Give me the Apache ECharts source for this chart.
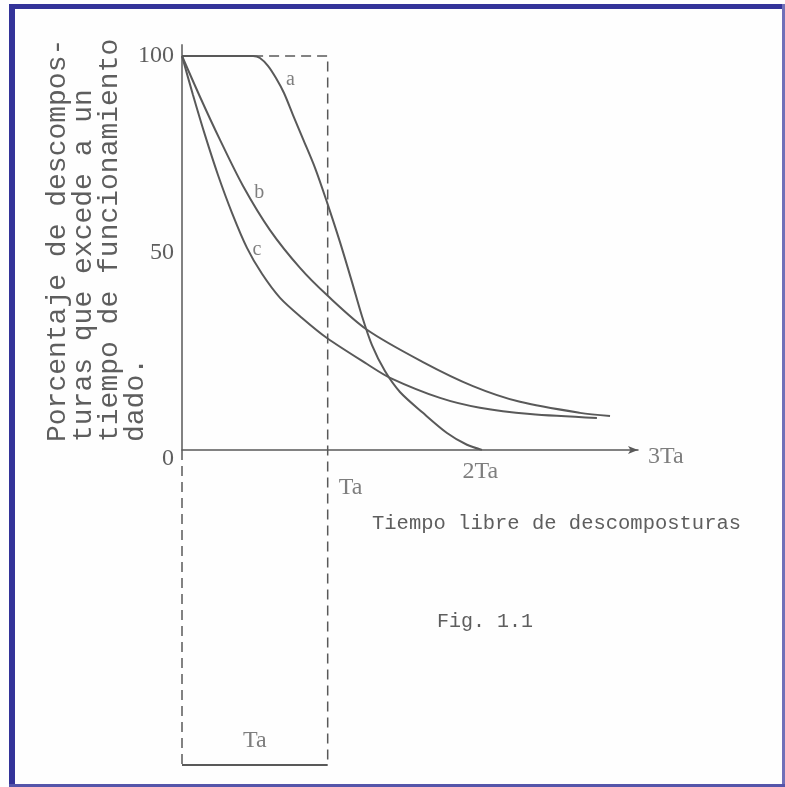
<!DOCTYPE html>
<html><head><meta charset="utf-8">
<script src="https://cdn.jsdelivr.net/npm/echarts@6/dist/echarts.min.js"></script>
<style>html,body{margin:0;padding:0;background:#fefefe}#c{width:785px;height:787px}</style>
</head><body><div id="c"></div>
<script>
// ---- data (x in units of Ta, y in percent) ----
const curveA = [[0,100],[0.488,100],[0.535,99.5],[0.590,97.5],[0.645,94.4],[0.700,90.6],[0.762,85.0],[0.831,78.9],[0.913,71.6],[0.995,62.9],[1.084,52.8],[1.167,42.6],[1.235,34.0],[1.304,26.6],[1.393,20.0],[1.496,14.7],[1.654,9.4],[1.819,4.3],[1.956,1.3],[2.059,0]];
const curveB = [[0,100],[0.124,89.6],[0.261,78.7],[0.419,67.0],[0.604,55.8],[0.810,46.2],[0.995,39.3],[1.270,30.5],[1.654,22.3],[1.997,16.2],[2.320,12.2],[2.732,9.4],[2.938,8.6]];
const curveC = [[0,100],[0.0755,90.1],[0.158,79.9],[0.247,69.8],[0.343,60.2],[0.446,51.3],[0.549,44.7],[0.673,38.6],[0.824,33.5],[0.995,28.4],[1.270,21.8],[1.428,18.3],[1.771,13.2],[2.045,10.7],[2.389,9.1],[2.848,8.1]];
const curveNames = ['a','b','c'];
const curveTagPos = [[0.745,94.0],[0.53,65.2],[0.515,50.8]];
const yTickValues = [0,50,100];
const xTickValues = [1,2];
const xTickLabels = ['Ta','2Ta'];
const xEndLabel = '3Ta';
const xSpan = [0, 3.13];
const ySpan = [-80, 100];
const yAxisSolid = [[0,103],[0,0]];
const leftDashed = [[0,0],[0,-80]];
const frameDashed = [[0.488,100],[1,100],[1,-80]];
const frameBottom = [[0,-80],[1,-80]];
const boxLabelPos = [0.5,-80];
const boxLabel = 'Ta';
const yTitleLines = ['Porcentaje de descompos-','turas que excede a un','tiempo de funcionamiento','dado.'];
const xTitle = 'Tiempo libre de descomposturas';
const figLabel = 'Fig. 1.1';

// ---- styles ----
const INK = '#595959';
const TXT = '#5e5e5e';
const SERIF = '"Liberation Serif", "DejaVu Serif", serif';
const MONO = '"Liberation Mono", "DejaVu Sans Mono", monospace';

const chart = echarts.init(document.getElementById('c'));

function curve(name, data) {
  return {
    name, type: 'line', data, smooth: 0.3, showSymbol: false,
    lineStyle: {color: INK, width: 2}, silent: true, z: 3
  };
}
function plain(data, dashed, width) {
  return {
    type: 'line', data, showSymbol: false, clip: false, silent: true,
    lineStyle: {color: INK, width: width || 1.5, type: dashed ? [10, 6] : 'solid'}, z: 2
  };
}
function textStyle(size) {
  return {fontFamily: SERIF, fontSize: size, color: TXT};
}

const tickOffsets = [{distance: 26, offset: [23, 0]}, {distance: 10, offset: [7, 0]}];
const tickPoints = xTickValues.map((v, i) => ({
  value: [v, 0], name: xTickLabels[i],
  label: Object.assign({show: true, position: 'bottom'}, tickOffsets[i])
}));
tickPoints.push({value: [xSpan[1], 0], name: xEndLabel, label: {show: true, position: 'right', distance: 10, offset: [0, 7]}});
tickPoints.push({value: boxLabelPos, name: boxLabel, label: {show: true, position: 'top', distance: 12}});

const tagPoints = curveTagPos.map((p, i) => ({value: p, name: curveNames[i]}));

chart.setOption({
  backgroundColor: '#fefefe',
  animation: false,
  grid: {left: 182, right: 147, top: 56, bottom: 22, containLabel: false, outerBoundsMode: 'none'},
  xAxis: {
    type: 'value', min: xSpan[0], max: xSpan[1], interval: 1,
    axisLine: {show: true, onZero: true, symbol: ['none', 'arrow'], symbolSize: [6, 10], lineStyle: {color: INK, width: 1.5}},
    axisTick: {show: false}, splitLine: {show: false},
    axisLabel: {show: false}
  },
  yAxis: {
    type: 'value', min: ySpan[0], max: ySpan[1], interval: 10,
    axisLine: {show: false}, axisTick: {show: false}, splitLine: {show: false},
    axisLabel: {
      margin: 8, showMinLabel: true, showMaxLabel: true,
      formatter: v => yTickValues.indexOf(v) < 0 ? '' : (v === 0 ? '{z|0}' : '{n|' + v + '}'),
      rich: {
        n: textStyle(24),
        z: Object.assign(textStyle(24), {padding: [18, 0, 0, 0]})
      }
    }
  },
  series: [
    plain(yAxisSolid, false, 1.5),
    plain(leftDashed, true, 1.5),
    plain(frameDashed, true, 1.5),
    plain(frameBottom, false, 2),
    curve('a', curveA),
    curve('b', curveB),
    curve('c', curveC),
    {
      type: 'scatter', symbolSize: 0, silent: true, clip: false, z: 5,
      data: tagPoints,
      label: Object.assign({show: true, position: 'inside', formatter: p => p.name}, textStyle(20))
    },
    {
      type: 'scatter', symbolSize: 0, silent: true, clip: false, z: 5,
      data: tickPoints,
      label: Object.assign({show: true, formatter: p => p.name}, textStyle(24))
    }
  ],
  graphic: [
    {type: 'rect', shape: {x: 9, y: 4, width: 6, height: 783}, style: {fill: '#333399'}, silent: true},
    {type: 'rect', shape: {x: 9, y: 4, width: 776, height: 5}, style: {fill: '#333399'}, silent: true},
    {type: 'rect', shape: {x: 782, y: 4, width: 3, height: 783}, style: {fill: '#7070b8'}, silent: true},
    {type: 'rect', shape: {x: 9, y: 784, width: 776, height: 3}, style: {fill: '#5555aa'}, silent: true},
    {type: 'text', x: 45, y: 442, rotation: Math.PI / 2, silent: true,
      style: {text: yTitleLines.join('\n'), fontFamily: MONO, fontSize: 28, lineHeight: 26, fill: TXT, align: 'left', verticalAlign: 'top'}},
    {type: 'text', x: 372, y: 524, silent: true,
      style: {text: xTitle, fontFamily: MONO, fontSize: 20.5, fill: TXT, align: 'left', verticalAlign: 'middle'}},
    {type: 'text', x: 437, y: 622, silent: true,
      style: {text: figLabel, fontFamily: MONO, fontSize: 20, fill: TXT, align: 'left', verticalAlign: 'middle'}}
  ]
});
</script></body></html>
